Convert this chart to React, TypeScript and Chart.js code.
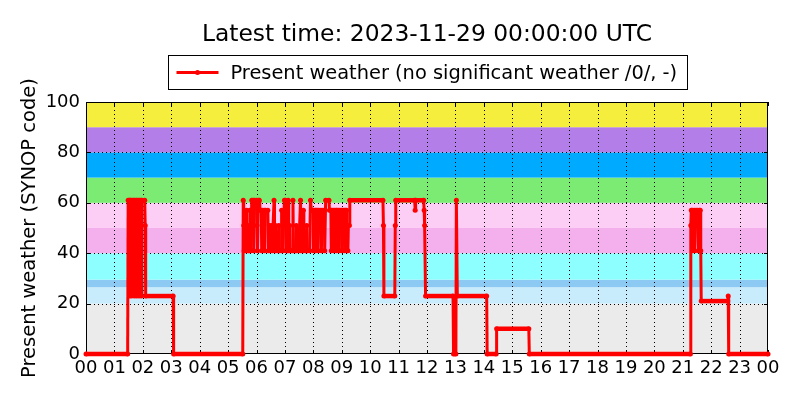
import React, { useEffect, useRef } from "react";
import { Chart, registerables } from "chart.js";

Chart.register(...registerables);

const chartTitle = "Latest time: 2023-11-29 00:00:00 UTC";
const seriesLabel = "Present weather (no significant weather /0/, -)";
const yAxisTitle = "Present weather (SYNOP code)";

const obsTimes: string[] = [
  "00:00", "01:28", "01:29", "01:31", "01:32", "01:33", "01:35", "01:36", "01:37", "01:38",
  "01:41", "01:42", "01:43", "01:46", "01:47", "01:48", "01:51", "01:52", "01:53", "01:56",
  "01:57", "01:58", "02:04", "02:05", "02:06", "03:04", "03:05", "05:31",
  "05:32", "05:33", "05:34", "05:36", "05:37", "05:39", "05:40", "05:42", "05:43", "05:45",
  "05:46", "05:48", "05:50", "05:53", "05:54", "05:56", "06:00", "06:01", "06:02", "06:04",
  "06:06", "06:07", "06:10", "06:11", "06:12", "06:16", "06:17", "06:19", "06:24", "06:25",
  "06:27", "06:29", "06:32", "06:33", "06:37", "06:38", "06:40", "06:41", "06:45", "06:47",
  "06:48", "06:52", "06:53", "06:55", "06:59", "07:01", "07:02", "07:04", "07:05", "07:07",
  "07:08", "07:10", "07:11", "07:15", "07:17", "07:18", "07:22", "07:24", "07:25", "07:29",
  "07:33", "07:34", "07:37", "07:39", "07:40", "07:44", "07:46", "07:47", "07:52", "07:54",
  "07:56", "07:59", "08:00", "08:01", "08:04", "08:05", "08:06", "08:09", "08:10", "08:12",
  "08:16", "08:17", "08:19", "08:23", "08:24", "08:26", "08:33", "08:34", "08:37", "08:38",
  "08:39", "08:42", "08:43", "08:45", "08:48", "08:49", "08:50", "08:53", "08:54", "08:56",
  "08:59", "09:00", "09:02", "09:05", "09:06", "09:08", "09:10", "09:11", "09:13", "09:14",
  "09:16", "09:17", "10:27", "10:28", "10:29", "10:52", "10:53", "10:54", "11:34", "11:35",
  "11:36", "11:53", "11:54", "11:55", "11:57", "12:55", "12:56", "13:01", "13:02", "13:04",
  "14:06", "14:07", "14:26", "14:27", "15:35", "15:36", "21:16", "21:17", "21:18", "21:20",
  "21:21", "21:22", "21:24", "21:25", "21:27", "21:28", "21:31", "21:32", "21:33", "21:35",
  "21:37", "21:38", "21:39", "22:35", "22:36", "22:37", "24:00",
];

const weatherCodes: number[] = [
  0, 0, 61, 61, 23, 61, 61, 23, 51, 61,
  61, 23, 61, 61, 23, 61, 61, 23, 61, 61,
  23, 61, 61, 51, 23, 23, 0, 0,
  61, 51, 41, 51, 41, 57, 41, 51, 41, 41,
  57, 41, 61, 61, 41, 61, 61, 51, 41, 61,
  61, 57, 57, 41, 57, 57, 41, 57, 57, 41,
  51, 41, 51, 41, 61, 41, 51, 41, 41, 51,
  41, 41, 57, 41, 61, 61, 41, 51, 41, 61,
  41, 51, 41, 41, 61, 41, 41, 51, 41, 41,
  61, 41, 41, 57, 41, 41, 51, 41, 41, 61,
  57, 57, 41, 57, 57, 41, 57, 57, 41, 57,
  57, 41, 57, 57, 41, 61, 61, 57, 57, 41,
  57, 57, 41, 57, 57, 41, 57, 57, 41, 57,
  57, 41, 57, 57, 41, 57, 57, 41, 41, 51,
  51, 61, 61, 51, 23, 23, 51, 61, 61, 57,
  61, 61, 57, 51, 23, 23, 0, 0, 61, 23,
  23, 0, 0, 10, 10, 0, 0, 51, 57, 57,
  41, 51, 57, 41, 51, 57, 57, 51, 41, 57,
  57, 41, 21, 21, 23, 0, 0,
];

const hourTickLabels: string[] = [
  "00", "01", "02", "03", "04", "05", "06", "07", "08", "09", "10", "11", "12",
  "13", "14", "15", "16", "17", "18", "19", "20", "21", "22", "23", "00",
];
const yTickValues: number[] = [0, 20, 40, 60, 80, 100];

// Background code bands
const bandLower: number[] = [0, 20, 26.5, 29.5, 40, 50, 60, 70, 80, 90];
const bandUpper: number[] = [20, 26.5, 29.5, 40, 50, 60, 70, 80, 90, 100];
const bandColors: string[] = [
  "#ebebeb", "#c8ecfc", "#8ccaf3", "#8effff", "#f4b0ec",
  "#fdcef5", "#7beb73", "#00aaff", "#b47ee9", "#f5ee3c",
];

const FONT = '"DejaVu Sans", sans-serif';
const RED = "#ff0000";

const toHours = (t: string) => {
  const [h, m] = t.split(":").map(Number);
  return h + m / 60;
};

const decorPlugin = {
  id: "decor",
  beforeDatasetsDraw(chart: any) {
    const { ctx, chartArea: a, scales } = chart;
    const x = scales.x;
    const y = scales.y;
    ctx.save();
    for (let i = 0; i < bandColors.length; i++) {
      const yt = y.getPixelForValue(bandUpper[i]);
      const yb = y.getPixelForValue(bandLower[i]);
      ctx.fillStyle = bandColors[i];
      ctx.fillRect(a.left, yt, a.right - a.left, yb - yt);
    }
    ctx.strokeStyle = "#000";
    ctx.lineWidth = 1;
    ctx.setLineDash([1, 3]);
    for (let h = 1; h < hourTickLabels.length - 1; h++) {
      const px = Math.round(x.getPixelForValue(h)) + 0.5;
      ctx.beginPath();
      ctx.moveTo(px, a.top);
      ctx.lineTo(px, a.bottom);
      ctx.stroke();
    }
    for (let i = 1; i < yTickValues.length - 1; i++) {
      const py = Math.round(y.getPixelForValue(yTickValues[i])) + 0.5;
      ctx.beginPath();
      ctx.moveTo(a.left, py);
      ctx.lineTo(a.right, py);
      ctx.stroke();
    }
    ctx.setLineDash([]);
    // inward tick marks
    for (let h = 0; h < hourTickLabels.length; h++) {
      const px = Math.round(x.getPixelForValue(h)) + 0.5;
      ctx.beginPath();
      ctx.moveTo(px, a.bottom);
      ctx.lineTo(px, a.bottom - 4);
      ctx.moveTo(px, a.top);
      ctx.lineTo(px, a.top + 4);
      ctx.stroke();
    }
    for (let i = 0; i < yTickValues.length; i++) {
      const py = Math.round(y.getPixelForValue(yTickValues[i])) + 0.5;
      ctx.beginPath();
      ctx.moveTo(a.left, py);
      ctx.lineTo(a.left + 4, py);
      ctx.moveTo(a.right, py);
      ctx.lineTo(a.right - 4, py);
      ctx.stroke();
    }
    ctx.strokeRect(a.left + 0.5, a.top + 0.5, a.right - a.left - 1, a.bottom - a.top - 1);
    ctx.restore();
  },
  afterDraw(chart: any) {
    const { ctx, chartArea: a } = chart;
    const cx = (a.left + a.right) / 2;
    ctx.save();
    ctx.fillStyle = "#000";
    ctx.textAlign = "center";
    ctx.textBaseline = "middle";
    ctx.font = `23.4px ${FONT}`;
    ctx.fillText(chartTitle, cx, 35);

    // legend
    ctx.font = `19.4px ${FONT}`;
    const tw = ctx.measureText(seriesLabel).width;
    const boxW = Math.round(62 + tw + 10);
    const bx = Math.round(cx - boxW / 2) + 0.5;
    const by = 55.5;
    const bh = 34;
    ctx.fillStyle = "#fff";
    ctx.fillRect(bx, by, boxW, bh);
    ctx.strokeStyle = "#000";
    ctx.lineWidth = 1;
    ctx.strokeRect(bx, by, boxW, bh);
    ctx.strokeStyle = RED;
    ctx.lineWidth = 3;
    ctx.beginPath();
    ctx.moveTo(bx + 8, by + bh / 2);
    ctx.lineTo(bx + 50, by + bh / 2);
    ctx.stroke();
    ctx.fillStyle = RED;
    ctx.beginPath();
    ctx.arc(bx + 29, by + bh / 2, 2.5, 0, Math.PI * 2);
    ctx.fill();
    ctx.fillStyle = "#000";
    ctx.textAlign = "left";
    ctx.fillText(seriesLabel, bx + 62, by + bh / 2 + 1);

    // y axis title
    ctx.translate(30, (a.top + a.bottom) / 2);
    ctx.rotate(-Math.PI / 2);
    ctx.textAlign = "center";
    ctx.font = `19.5px ${FONT}`;
    ctx.fillText(yAxisTitle, 0, 0);
    ctx.restore();
  },
};

export default function App() {
  const ref = useRef<HTMLCanvasElement>(null);
  useEffect(() => {
    const canvas = ref.current;
    if (!canvas) return;
    const points = obsTimes.map((t, i) => ({ x: toHours(t), y: weatherCodes[i] }));
    const chart = new Chart(canvas, {
      type: "line",
      data: {
        datasets: [
          {
            label: seriesLabel,
            data: points,
            borderColor: RED,
            backgroundColor: RED,
            borderWidth: 3,
            pointRadius: 2.5,
            pointBorderWidth: 0,
            pointBackgroundColor: RED,
            tension: 0,
            clip: 5,
            segment: {
              borderWidth: (c: any) => (c.p0.parsed.y === c.p1.parsed.y ? 4.5 : 3),
            },
          } as any,
        ],
      },
      options: {
        responsive: false,
        animation: false,
        events: [],
        layout: { padding: { top: 102, left: 0, right: 32, bottom: 0 } },
        plugins: {
          legend: { display: false },
          title: { display: false },
          tooltip: { enabled: false },
        },
        scales: {
          x: {
            type: "linear",
            min: 0,
            max: 24,
            grid: { display: false, drawTicks: false },
            border: { display: false },
            afterBuildTicks: (s: any) => {
              s.ticks = hourTickLabels.map((_, i) => ({ value: i }));
            },
            afterFit: (s: any) => {
              s.height = 46;
            },
            ticks: {
              autoSkip: false,
              maxRotation: 0,
              minRotation: 0,
              padding: 4,
              color: "#000",
              font: { family: FONT, size: 18 },
              callback: (v: any) => hourTickLabels[Math.round(Number(v))],
            },
          },
          y: {
            type: "linear",
            min: 0,
            max: 100,
            grid: { display: false, drawTicks: false },
            border: { display: false },
            afterBuildTicks: (s: any) => {
              s.ticks = yTickValues.map((v) => ({ value: v }));
            },
            afterFit: (s: any) => {
              s.width = 86;
            },
            ticks: {
              padding: 6,
              color: "#000",
              font: { family: FONT, size: 18 },
              callback: (v: any) => String(v),
            },
          },
        },
      },
      plugins: [decorPlugin],
    });
    return () => chart.destroy();
  }, []);
  return (
    <canvas
      ref={ref}
      width={800}
      height={400}
      style={{ position: "absolute", left: 0, top: 0, width: 800, height: 400 }}
    />
  );
}
